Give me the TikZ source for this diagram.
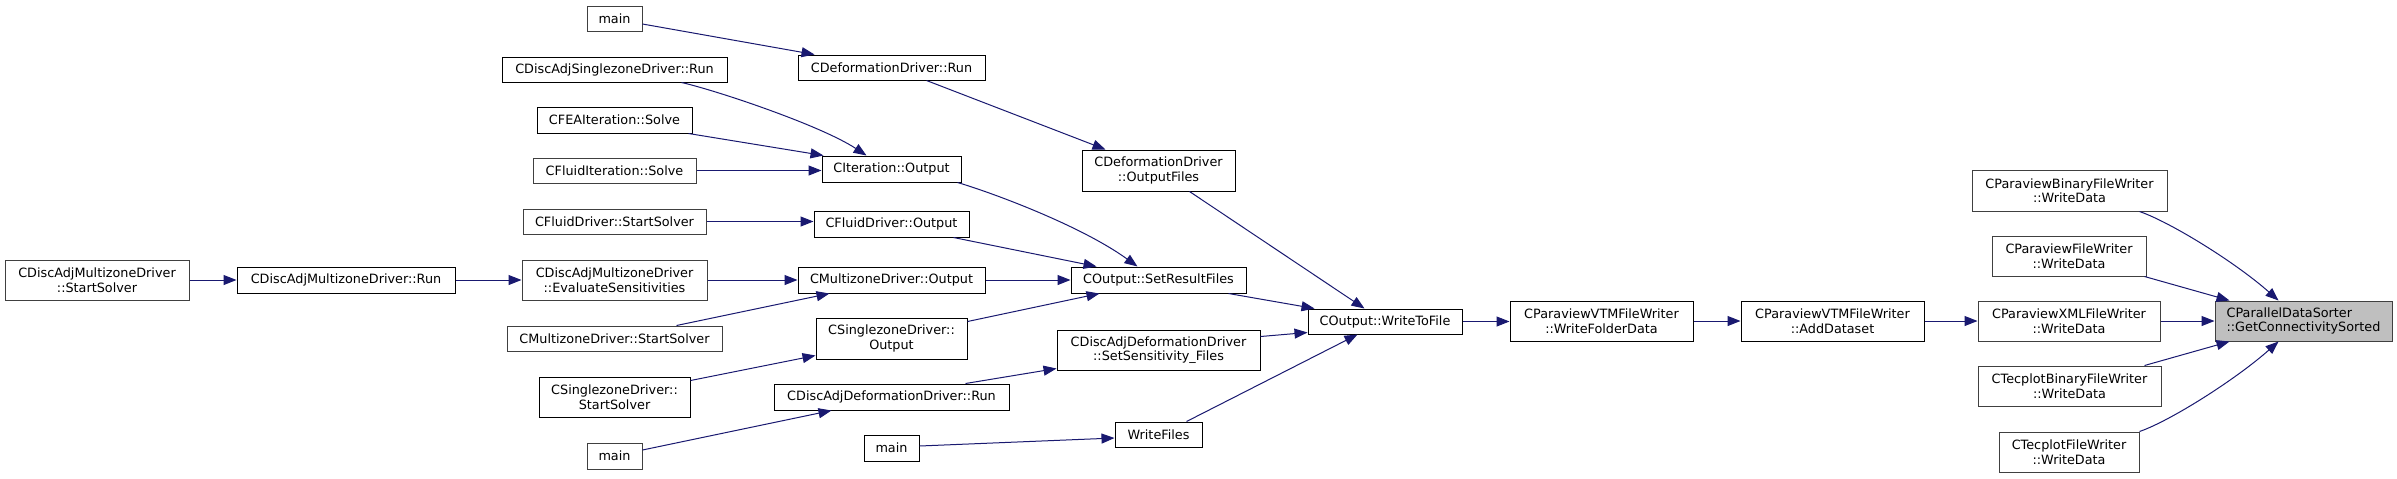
\documentclass[tikz,border=0pt]{standalone}
\usepackage{fontspec}
\setmainfont{DejaVu Sans}
\usetikzlibrary{arrows.meta,calc}
\definecolor{edgeblue}{HTML}{191970}
\definecolor{grayborder}{HTML}{404040}
\definecolor{rootfill}{HTML}{BFBFBF}
\tikzset{
 fn/.style={draw=black, line width=0.5pt, fill=white, inner sep=0pt, align=center, font=\fontsize{6.4}{7.25}\selectfont},
 fng/.style={fn, draw=grayborder},
 rootfn/.style={fn, draw=grayborder, fill=rootfill, align=left},
 call/.style={draw=edgeblue, line width=0.5pt, -{Triangle[length=6.5pt,width=5pt]}},
}
\newcommand\fnode[6]{\node[#1, minimum width=#4*0.5pt, minimum height=#5*0.5pt] (#2) at (#3) {#6};}
\begin{document}
\begin{tikzpicture}[x=0.5pt,y=-0.5pt]
\fill[white] (0,0) rectangle (2397,478);
\useasboundingbox (0,0) rectangle (2397,478);
% column 1
\fnode{fng}{damzStart}{97,280}{184}{40}{CDiscAdjMultizoneDriver\\::StartSolver}
% column 2
\fnode{fn}{damzRun}{346,280}{218}{26}{CDiscAdjMultizoneDriver::Run}
% column 3
\fnode{fng}{mainA}{614.5,18.5}{55}{25}{main}
\fnode{fn}{dasRun}{614.5,69.5}{225}{25}{CDiscAdjSinglezoneDriver::Run}
\fnode{fn}{feaSolve}{614.5,120}{155}{26}{CFEAIteration::Solve}
\fnode{fng}{fluidItSolve}{614.5,170.5}{163}{25}{CFluidIteration::Solve}
\fnode{fng}{fluidStart}{614.5,221.5}{183}{25}{CFluidDriver::StartSolver}
\fnode{fng}{evalSens}{614.5,280}{185}{40}{CDiscAdjMultizoneDriver\\::EvaluateSensitivities}
\fnode{fng}{mzStart}{614.5,338.5}{215}{25}{CMultizoneDriver::StartSolver}
\fnode{fn}{szStart}{614.5,397}{151}{40}{CSinglezoneDriver::\\StartSolver}
\fnode{fng}{mainB}{614.5,456}{55}{26}{main}
% column 4
\fnode{fn}{defRun}{891.5,67.5}{187}{25}{CDeformationDriver::Run}
\fnode{fn}{itOutput}{891.5,169}{139}{26}{CIteration::Output}
\fnode{fn}{fluidOutput}{891.5,224}{155}{26}{CFluidDriver::Output}
\fnode{fn}{mzOutput}{891.5,280}{187}{26}{CMultizoneDriver::Output}
\fnode{fn}{szOutput}{891.5,338.5}{151}{41}{CSinglezoneDriver::\\Output}
\fnode{fn}{dadRun}{891.5,397}{235}{26}{CDiscAdjDeformationDriver::Run}
\fnode{fn}{mainC}{891.5,448}{55}{26}{main}
% column 5
\fnode{fn}{defOutFiles}{1158.5,170.5}{153}{41}{CDeformationDriver\\::OutputFiles}
\fnode{fn}{setResult}{1158.5,280}{175}{26}{COutput::SetResultFiles}
\fnode{fn}{setSens}{1158.5,350}{203}{40}{CDiscAdjDeformationDriver\\::SetSensitivity\_Files}
\fnode{fn}{writeFiles}{1158.5,434.5}{87}{25}{WriteFiles}
% column 6
\fnode{fn}{writeToFile}{1385,321.5}{154}{25}{COutput::WriteToFile}
% column 7-8
\fnode{fn}{folderData}{1601.5,321}{183}{40}{CParaviewVTMFileWriter\\::WriteFolderData}
\fnode{fn}{addDataset}{1832.5,321}{183}{40}{CParaviewVTMFileWriter\\::AddDataset}
% column 9
\fnode{fng}{pvBin}{2069.5,190.5}{195}{41}{CParaviewBinaryFileWriter\\::WriteData}
\fnode{fng}{pvFile}{2069,256}{154}{40}{CParaviewFileWriter\\::WriteData}
\fnode{fng}{pvXML}{2069,321}{182}{40}{CParaviewXMLFileWriter\\::WriteData}
\fnode{fng}{tecBin}{2069.5,386}{183}{40}{CTecplotBinaryFileWriter\\::WriteData}
\fnode{fng}{tecFile}{2069,452}{140}{40}{CTecplotFileWriter\\::WriteData}
% root
\fnode{rootfn}{gcs}{2303.5,321}{177}{40}{CParallelDataSorter\\::GetConnectivitySorted}
% edges
\draw[call] ($(mainA.east)+(0,5.5)$) -- ($(defRun.north west)+(17,0)$);
\draw[call] ($(defRun.south west)+(129,0)$) -- ($(defOutFiles.north west)+(24,0)$);
\draw[call] ($(dasRun.south west)+(180,0)$) .. controls (715,90) and (820,125) .. ($(itOutput.north west)+(45,0)$);
\draw[call] ($(feaSolve.south east)+(-4,0)$) -- ($(itOutput.north west)+(2,0)$);
\draw[call] (fluidItSolve.east) -- (fluidItSolve.east -| itOutput.west);
\draw[call] ($(itOutput.south east)+(-4,0)$) .. controls (990,192) and (1080,225) .. ($(setResult.north west)+(67,0)$);
\draw[call] (fluidStart.east) -- (fluidStart.east -| fluidOutput.west);
\draw[call] ($(fluidOutput.south east)+(-16,0)$) -- ($(setResult.north west)+(26,0)$);
\draw[call] (damzStart.east) -- (damzRun.west);
\draw[call] (damzRun.east) -- (evalSens.west);
\draw[call] (evalSens.east) -- (mzOutput.west);
\draw[call] ($(mzStart.north west)+(170,0)$) -- ($(mzOutput.south west)+(32,0)$);
\draw[call] (mzOutput.east) -- (setResult.west);
\draw[call] ($(szOutput.north east)+(0,4)$) -- ($(setResult.south west)+(29,0)$);
\draw[call] ($(szStart.north east)+(0,4)$) -- ($(szOutput.south west)+(0,-4)$);
\draw[call] ($(setResult.south east)+(-18,0)$) -- ($(writeToFile.north west)+(7,0)$);
\draw[call] ($(defOutFiles.south west)+(108,0)$) -- ($(writeToFile.north west)+(57,0)$);
\draw[call] ($(setSens.north east)+(0,7)$) -- ($(writeToFile.south west)+(0,-2)$);
\draw[call] ($(writeFiles.north west)+(72,0)$) -- ($(writeToFile.south west)+(50,0)$);
\draw[call] ($(dadRun.north east)+(-44,0)$) -- ($(setSens.south west)+(0,-2)$);
\draw[call] ($(mainB.east)+(0,-6)$) -- ($(dadRun.south west)+(58,0)$);
\draw[call] ($(mainC.east)+(0,-2)$) -- ($(writeFiles.west)+(0,3.5)$);
\draw[call] (writeToFile.east) -- (writeToFile.east -| folderData.west);
\draw[call] (folderData.east) -- (addDataset.west);
\draw[call] (addDataset.east) -- (pvXML.west);
\draw[call] (pvXML.east) -- (gcs.west);
\draw[call] ($(pvBin.south west)+(168,0)$) .. controls (2170,222) and (2235,262) .. ($(gcs.north west)+(64,0)$);
\draw[call] ($(pvFile.south east)+(-2,0)$) -- ($(gcs.north west)+(15,0)$);
\draw[call] ($(tecBin.north east)+(-17,0)$) -- ($(gcs.south west)+(15,0)$);
\draw[call] (tecFile.north east) .. controls (2170,421) and (2235,380) .. ($(gcs.south west)+(64,0)$);
\end{tikzpicture}
\end{document}
